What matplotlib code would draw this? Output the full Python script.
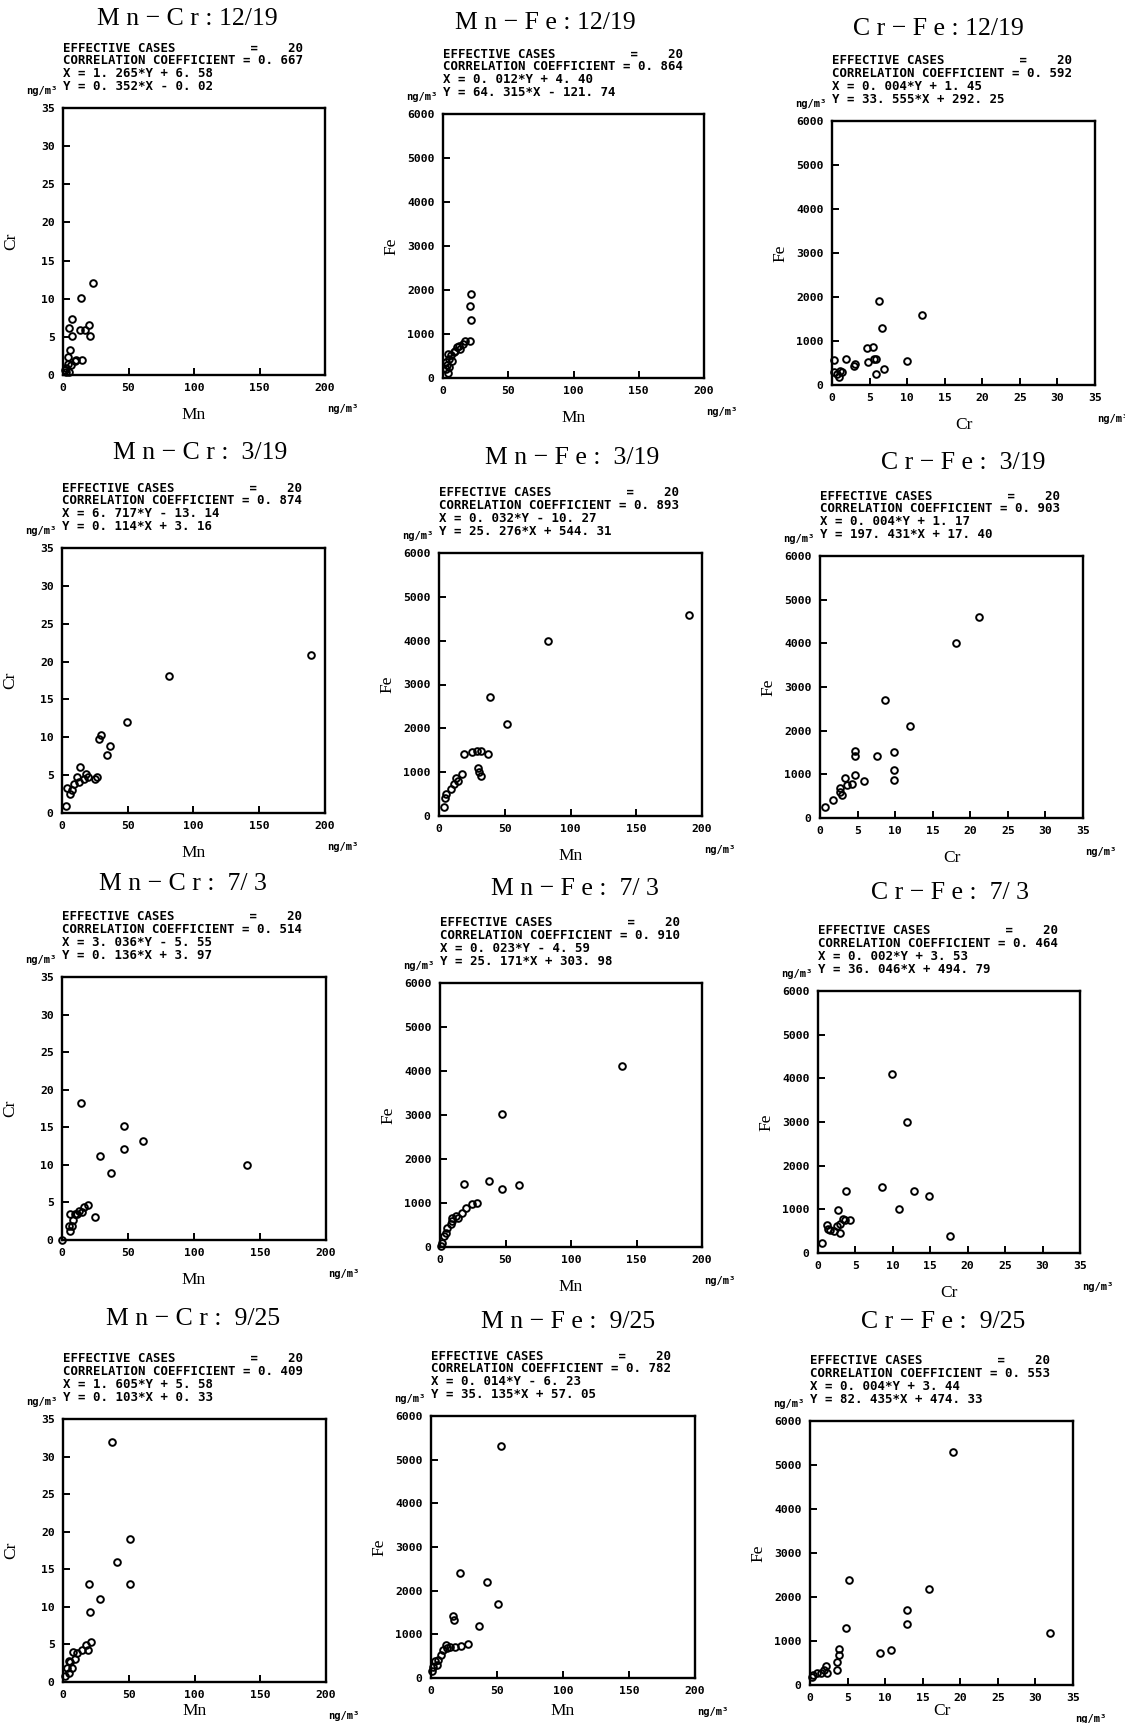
import matplotlib
matplotlib.use("Agg")
import matplotlib.pyplot as plt

# ---------------- data ----------------
titles = ["M n − C r : 12/19", "M n − F e : 12/19", "C r − F e : 12/19",
          "M n − C r :  3/19", "M n − F e :  3/19", "C r − F e :  3/19",
          "M n − C r :  7/ 3", "M n − F e :  7/ 3", "C r − F e :  7/ 3",
          "M n − C r :  9/25", "M n − F e :  9/25", "C r − F e :  9/25"]

x_labels = ["Mn", "Mn", "Cr"] * 4
y_labels = ["Cr", "Fe", "Fe"] * 4

cases_lines = ["EFFECTIVE CASES          =    20"] * 12
corr_values = ["0. 667", "0. 864", "0. 592",
               "0. 874", "0. 893", "0. 903",
               "0. 514", "0. 910", "0. 464",
               "0. 409", "0. 782", "0. 553"]
x_eqs = ["X = 1. 265*Y + 6. 58", "X = 0. 012*Y + 4. 40", "X = 0. 004*Y + 1. 45",
         "X = 6. 717*Y - 13. 14", "X = 0. 032*Y - 10. 27", "X = 0. 004*Y + 1. 17",
         "X = 3. 036*Y - 5. 55", "X = 0. 023*Y - 4. 59", "X = 0. 002*Y + 3. 53",
         "X = 1. 605*Y + 5. 58", "X = 0. 014*Y - 6. 23", "X = 0. 004*Y + 3. 44"]
y_eqs = ["Y = 0. 352*X - 0. 02", "Y = 64. 315*X - 121. 74", "Y = 33. 555*X + 292. 25",
         "Y = 0. 114*X + 3. 16", "Y = 25. 276*X + 544. 31", "Y = 197. 431*X + 17. 40",
         "Y = 0. 136*X + 3. 97", "Y = 25. 171*X + 303. 98", "Y = 36. 046*X + 494. 79",
         "Y = 0. 103*X + 0. 33", "Y = 35. 135*X + 57. 05", "Y = 82. 435*X + 474. 33"]

mn_cr_x_ticks = [0, 50, 100, 150, 200]
cr_ticks = [0, 5, 10, 15, 20, 25, 30, 35]
fe_ticks = [0, 1000, 2000, 3000, 4000, 5000, 6000]

# Panel 1: Mn-Cr 12/19
p1_x = [23, 13.5, 7, 4.6, 12.7, 16.5, 20, 20.4, 7, 5, 10, 14.8, 3.8, 2.5, 4.5, 1.3, 6.4, 9, 3.8, 2]
p1_y = [12.1, 10.1, 7.3, 6.2, 5.9, 5.9, 6.6, 5.1, 5.1, 3.3, 2, 2, 1.5, 0.9, 0.4, 0.7, 1.3, 1.8, 2.4, 0.35]
# Panel 2: Mn-Fe 12/19
p2_x = [21.7, 20.9, 21.4, 20.4, 16.6, 13.2, 9.4, 6.4, 4.8, 3.1, 2.5, 4.8, 8.2, 10.7, 3.8, 3.8, 2.3, 6.9, 15, 12]
p2_y = [1900, 1630, 1310, 840, 840, 660, 620, 530, 430, 300, 200, 240, 585, 700, 550, 105, 355, 380, 775, 720]
# Panel 3: Cr-Fe 12/19
p3_x = [6.2, 6.7, 12, 10, 4.6, 5.5, 4.8, 5.8, 5.9, 6.9, 1.8, 3.1, 2.9, 0.2, 1.1, 0.9, 0.2, 1.3, 0.6, 5.6]
p3_y = [1905, 1300, 1580, 555, 835, 875, 515, 590, 250, 365, 590, 480, 440, 570, 325, 175, 305, 290, 250, 600]
# Panel 4: Mn-Cr 3/19
p4_x = [189.2, 81.5, 49.2, 29.5, 28, 36.2, 34.4, 26.8, 14, 18.3, 17, 12.7, 8.9, 7.6, 3.8, 3.3, 6.4, 11.5, 19.6, 25]
p4_y = [20.9, 18.1, 12.0, 10.3, 9.8, 8.8, 7.7, 4.8, 6.1, 5.1, 4.5, 4.1, 3.8, 3.1, 3.3, 0.9, 2.5, 4.7, 4.7, 4.5]
# Panel 5: Mn-Fe 3/19
p5_x = [190.3, 82.8, 38.7, 51.5, 36.9, 31.8, 29, 25.2, 19.1, 29.8, 31.8, 17.6, 14.5, 11.5, 8.9, 5.6, 4.8, 3.8, 13.2, 30.5]
p5_y = [4590, 4000, 2705, 2095, 1410, 1485, 1485, 1465, 1410, 1105, 915, 955, 800, 725, 610, 495, 420, 215, 875, 1000]
# Panel 6: Cr-Fe 3/19
p6_x = [21.1, 18.1, 8.7, 12, 9.9, 9.9, 9.8, 7.6, 4.7, 4.7, 5.9, 4.6, 4.2, 3.3, 2.6, 2.9, 1.7, 0.7, 3.6, 2.7]
p6_y = [4605, 4010, 2710, 2105, 1505, 1100, 870, 1410, 1525, 1410, 855, 985, 780, 910, 680, 530, 415, 245, 765, 590]
# Panel 7: Mn-Cr 7/3
p7_x = [14.7, 47.3, 61.5, 47.3, 28.6, 37.2, 140.5, 24.8, 19.5, 17, 15.2, 11.4, 6.3, 8.4, 5.1, 7.6, 0, 12.7, 5.8, 9.5]
p7_y = [18.2, 15.2, 13.2, 12.1, 11.2, 8.85, 10, 3.0, 4.6, 4.4, 3.7, 3.5, 3.4, 2.6, 1.9, 1.9, 0, 3.9, 1.25, 3.4]
# Panel 8: Mn-Fe 7/3
p8_x = [139, 47, 18.3, 37.4, 47.5, 60.2, 28.5, 24.7, 19.6, 16.5, 11.9, 9.4, 8.1, 5.6, 4.3, 3, 1.3, 0.5, 9.4, 14]
p8_y = [4110, 3020, 1425, 1505, 1315, 1410, 1010, 970, 895, 780, 705, 590, 515, 440, 325, 250, 100, 25, 670, 655]
# Panel 9: Cr-Fe 7/3
p9_x = [9.9, 11.9, 8.5, 3.8, 12.8, 14.8, 10.8, 17.7, 2.7, 3.6, 4.3, 2.9, 1.2, 1.6, 3, 0.6, 2.6, 3.3, 2.2, 1.4]
p9_y = [4105, 3000, 1510, 1410, 1410, 1300, 1000, 380, 990, 765, 750, 670, 635, 520, 460, 230, 610, 785, 500, 560]
# Panel 10: Mn-Cr 9/25
p10_x = [37.2, 51.1, 41, 50.6, 19.5, 27.8, 20.3, 21.3, 17.7, 14.4, 10.6, 7.6, 5.6, 3, 6.8, 4.3, 1.8, 9.4, 18.7, 4.3]
p10_y = [32.0, 19.0, 15.95, 13.1, 13.1, 11.0, 9.35, 5.3, 4.9, 4.2, 3.8, 4.0, 2.6, 1.9, 1.9, 1.25, 0.8, 3.0, 4.3, 2.8]
# Panel 11: Mn-Fe 9/25
p11_x = [53.4, 22.1, 42.4, 50.8, 36.6, 17.5, 16.3, 27.7, 22.9, 18.3, 14.5, 11.2, 9.4, 7.6, 5.6, 3, 1.8, 1, 4.3, 11.9]
p11_y = [5320, 2395, 2200, 1690, 1190, 1320, 1420, 785, 730, 705, 705, 765, 650, 535, 420, 385, 245, 155, 305, 690]
# Panel 12: Cr-Fe 9/25
p12_x = [19, 5.2, 15.9, 12.9, 12.9, 4.75, 31.9, 9.3, 10.8, 3.8, 3.8, 3.6, 3.6, 2.1, 2.3, 1.4, 0.9, 0.4, 0.2, 1.8]
p12_y = [5295, 2390, 2185, 1695, 1390, 1305, 1190, 735, 795, 810, 685, 530, 340, 435, 280, 280, 265, 230, 175, 340]

xs = [p1_x, p2_x, p3_x, p4_x, p5_x, p6_x, p7_x, p8_x, p9_x, p10_x, p11_x, p12_x]
ys = [p1_y, p2_y, p3_y, p4_y, p5_y, p6_y, p7_y, p8_y, p9_y, p10_y, p11_y, p12_y]

# ---------------- layout (pixels: left, top, right, bottom) ----------------
W, H = 1125, 1723
boxes = [(63, 108, 325, 375), (443, 114, 704, 378), (832, 121, 1095, 385),
         (62, 548, 325, 813), (439, 553, 702, 816), (820, 556, 1083, 818),
         (62, 977, 326, 1240), (440, 983, 702, 1247), (818, 991, 1080, 1253),
         (63, 1419, 326, 1682), (431, 1416, 695, 1678), (810, 1421, 1073, 1685)]
title_pos = [(187, 19), (545, 23), (938, 29),
             (200, 453), (572, 458), (963, 463),
             (183, 884), (575, 889), (950, 893),
             (193, 1319), (568, 1322), (943, 1322)]

fig = plt.figure(figsize=(W / 100, H / 100), dpi=100)
fig.patch.set_facecolor("white")

def fx(px):
    return px / W

def fy(py):
    return 1 - py / H

mono = "DejaVu Sans Mono"
serif = "Liberation Serif"

for i in range(12):
    l, t, r, b = boxes[i]
    ax = fig.add_axes([fx(l), fy(b), (r - l) / W, (b - t) / H])
    ax.plot(xs[i], ys[i], linestyle="none", marker="o", markersize=4.8,
            markerfacecolor="none", markeredgecolor="black", markeredgewidth=1.4,
            clip_on=False)
    if x_labels[i] == "Mn":
        ax.set_xlim(0, 200)
        ax.set_xticks(mn_cr_x_ticks)
    else:
        ax.set_xlim(0, 35)
        ax.set_xticks(cr_ticks)
    if y_labels[i] == "Cr":
        ax.set_ylim(0, 35)
        ax.set_yticks(cr_ticks)
    else:
        ax.set_ylim(0, 6000)
        ax.set_yticks(fe_ticks)
    for s in ax.spines.values():
        s.set_linewidth(1.7)
    ax.tick_params(direction="in", length=5, width=1.4, top=False, right=False,
                   pad=6)
    for lab in ax.get_xticklabels() + ax.get_yticklabels():
        lab.set_fontfamily(mono)
        lab.set_fontweight("bold")
        lab.set_fontsize(8.2)

    # title
    tx, ty = title_pos[i]
    fig.text(fx(tx), fy(ty), titles[i], ha="center", va="center",
             family=serif, fontsize=18.5)

    # statistics block
    lines = [cases_lines[i],
             "CORRELATION COEFFICIENT = " + corr_values[i],
             x_eqs[i], y_eqs[i]]
    for k, line in enumerate(lines):
        fig.text(fx(l), fy(t - 60 + 12.7 * k), line, ha="left", va="center",
                 family=mono, weight="bold", fontsize=8.9)

    # units
    fig.text(fx(l - 6), fy(t - 17), "ng/m³", ha="right", va="center",
             family=mono, weight="bold", fontsize=7.5)
    fig.text(fx(r + 2), fy(b + 34), "ng/m³", ha="left", va="center",
             family=mono, weight="bold", fontsize=7.5)

    # axis labels
    fig.text(fx((l + r) / 2), fy(min(b + 40, H - 12)), x_labels[i],
             ha="center", va="center", family=serif, fontsize=12.5)
    fig.text(fx(l - 52), fy((t + b) / 2), y_labels[i], ha="center", va="center",
             family=serif, fontsize=12.5, rotation=90)

fig.savefig("out.png", dpi=100, facecolor="white")
